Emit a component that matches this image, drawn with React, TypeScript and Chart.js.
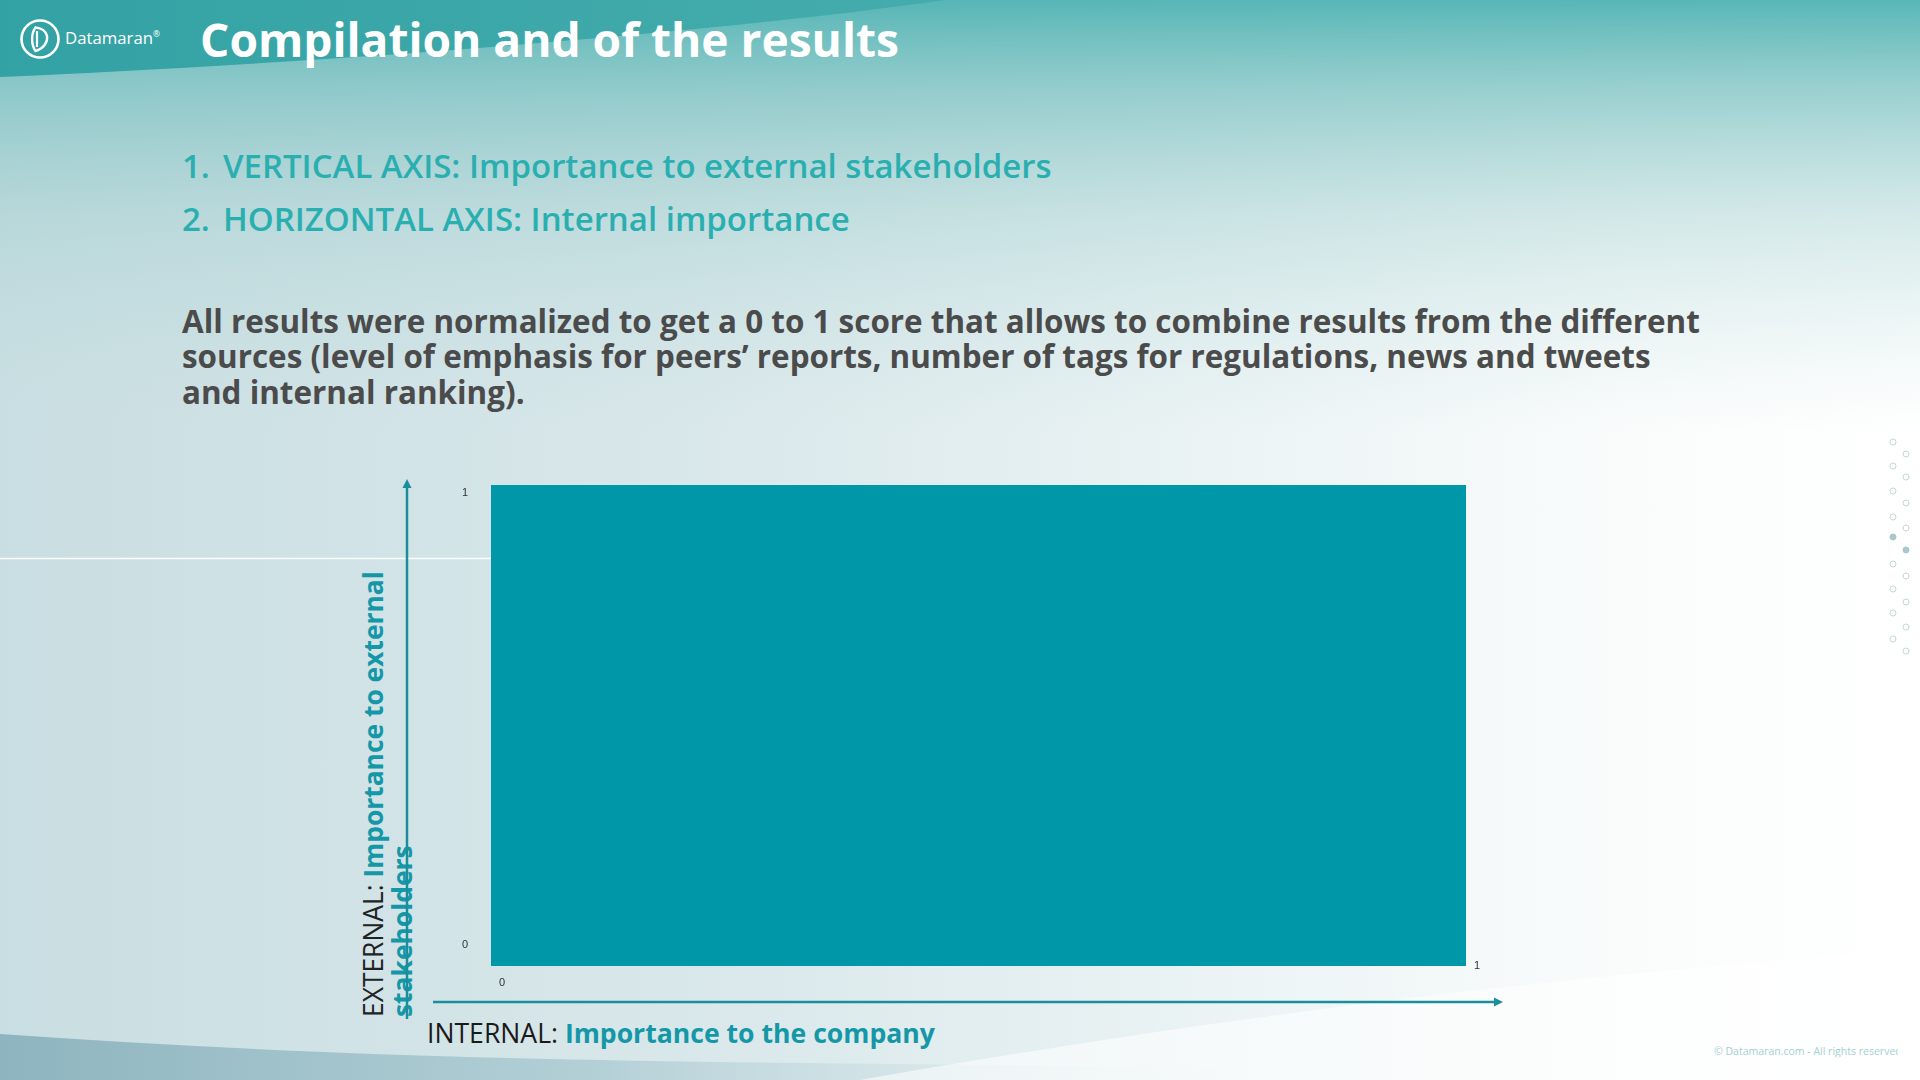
import React, { useEffect, useMemo, useRef } from "react";
import { Chart, registerables } from "chart.js";

Chart.register(...registerables);

// ---------- data ----------
const xRange = [0, 1];
const yRange = [0, 1];
const xTicks = [0, 1];
const yTicks = [0, 1];
const regionX = [0, 1];
const regionTop = [1, 1];

const titleText = "Compilation and of the results";
const listItems = [
  "VERTICAL AXIS: Importance to external stakeholders",
  "HORIZONTAL AXIS: Internal importance",
];
const paragraphLines = [
  "All results were normalized to get a 0 to 1 score that allows to combine results from the different",
  "sources (level of emphasis for peers\u2019 reports, number of tags for regulations, news and tweets",
  "and internal ranking).",
];
const yTitle = ["EXTERNAL: ", "Importance to external", "stakeholders"];
const xTitle = ["INTERNAL: ", "Importance to the company"];

// ---------- styles ----------
const FONT = "'Open Sans', 'Noto Sans', sans-serif";
const RECT = "#0097a9";
const ARROW = "#1a8e9c";
const TEAL_LIST = "#2aafb0";
const TEAL_AXIS = "#1497a6";

let mctx: CanvasRenderingContext2D | null = null;
function textW(segs: [string, number][], size: number) {
  if (!mctx) mctx = document.createElement("canvas").getContext("2d");
  let w = 0;
  for (const [t, wt] of segs) {
    mctx!.font = `${wt} ${size}px ${FONT}`;
    w += mctx!.measureText(t).width;
  }
  return w;
}
function fit(segs: [string, number][], target: number) {
  return (100 * target) / textW(segs, 100);
}

const decor = {
  id: "decor",
  afterDraw(chart: any) {
    const { ctx, chartArea: a, scales } = chart;
    const x = scales.x;
    const y = scales.y;
    ctx.save();
    // tick labels
    ctx.font = "11px 'Liberation Sans', Arial, sans-serif";
    ctx.fillStyle = "#333";
    ctx.textAlign = "center";
    ctx.textBaseline = "middle";
    const yMax = yRange[1];
    yTicks.forEach((v) => {
      const py = y.getPixelForValue(v) + (v === yMax ? 8 : -21);
      ctx.fillText(String(v), a.left - 26, py);
    });
    const xMax = xRange[1];
    xTicks.forEach((v) => {
      const px = x.getPixelForValue(v) + 11;
      const py = a.bottom + (v === xMax ? 0 : 17);
      ctx.fillText(String(v), px, py);
    });
    // arrows
    ctx.strokeStyle = ARROW;
    ctx.fillStyle = ARROW;
    ctx.lineWidth = 2.5;
    const vx = a.left - 84;
    const vTop = a.top - 6;
    ctx.beginPath();
    ctx.moveTo(vx, a.bottom + 53);
    ctx.lineTo(vx, vTop + 7);
    ctx.stroke();
    ctx.beginPath();
    ctx.moveTo(vx, vTop);
    ctx.lineTo(vx - 4.5, vTop + 9);
    ctx.lineTo(vx + 4.5, vTop + 9);
    ctx.closePath();
    ctx.fill();
    const hy = a.bottom + 36;
    const hRight = a.right + 37;
    ctx.beginPath();
    ctx.moveTo(a.left - 58, hy);
    ctx.lineTo(hRight - 7, hy);
    ctx.stroke();
    ctx.beginPath();
    ctx.moveTo(hRight, hy);
    ctx.lineTo(hRight - 9, hy - 4.5);
    ctx.lineTo(hRight - 9, hy + 4.5);
    ctx.closePath();
    ctx.fill();
    ctx.restore();
  },
};

const dotsA = [442, 466, 491, 517, 537, 564, 589, 613, 639];
const dotsB = [454, 477, 503, 528, 550, 576, 602, 627, 651];

export default function App() {
  const canvasRef = useRef<HTMLCanvasElement>(null);

  useEffect(() => {
    const chart = new Chart(canvasRef.current!, {
      type: "scatter",
      data: {
        datasets: [
          {
            data: regionX.map((x, i) => ({ x, y: regionTop[i] })),
            showLine: true,
            fill: "origin",
            backgroundColor: RECT,
            borderColor: "rgba(0,0,0,0)",
            borderWidth: 0,
            pointRadius: 0,
            tension: 0,
          } as any,
        ],
      },
      options: {
        animation: false,
        responsive: true,
        maintainAspectRatio: false,
        layout: { padding: { left: 491, top: 485, right: 454, bottom: 114 } },
        scales: {
          x: { type: "linear", min: xRange[0], max: xRange[1], display: false },
          y: { type: "linear", min: yRange[0], max: yRange[1], display: false },
        },
        plugins: { legend: { display: false }, tooltip: { enabled: false } },
        events: [],
      },
      plugins: [decor],
    });
    return () => chart.destroy();
  }, []);

  const sizes = useMemo(() => {
    return {
      title: fit([[titleText, 700]], 699),
      list: fit([[listItems[0], 600]], 829),
      para: fit([[paragraphLines[0], 700]], 1519),
      yT: fit([[yTitle[0], 400], [yTitle[1], 700]], 446),
      xT: fit([[xTitle[0], 400], [xTitle[1], 700]], 508),
      logo: fit([["Datamaran", 500]], 88),
      copy: fit([["\u00a9 Datamaran.com - All rights reserved", 400]], 188),
    };
  }, []);

  const abs = (s: React.CSSProperties): React.CSSProperties => ({
    position: "absolute",
    whiteSpace: "nowrap",
    lineHeight: 1,
    fontFamily: FONT,
    ...s,
  });

  return (
    <div
      style={{
        position: "absolute",
        left: 0,
        top: 0,
        width: 1920,
        height: 1080,
        overflow: "hidden",
        background: "#fff",
      }}
    >
      <svg width={1920} height={1080} style={{ position: "absolute", left: 0, top: 0 }}>
        <defs>
          <linearGradient id="bgH" x1="0" y1="0" x2="1920" y2="0" gradientUnits="userSpaceOnUse">
            <stop offset="0" stopColor="#c9dee2" />
            <stop offset="0.35" stopColor="#d8e7ea" />
            <stop offset="0.65" stopColor="#ecf4f5" />
            <stop offset="0.85" stopColor="#fafcfc" />
            <stop offset="1" stopColor="#ffffff" />
          </linearGradient>
          <linearGradient id="bgV" x1="0" y1="0" x2="0" y2="1080" gradientUnits="userSpaceOnUse">
            <stop offset="0" stopColor="#4fb3b3" stopOpacity="0.95" />
            <stop offset="0.08" stopColor="#78c0c0" stopOpacity="0.75" />
            <stop offset="0.2" stopColor="#a2cfcf" stopOpacity="0.45" />
            <stop offset="0.4" stopColor="#c5dfe0" stopOpacity="0" />
          </linearGradient>
          <linearGradient id="band" x1="0" y1="0" x2="945" y2="0" gradientUnits="userSpaceOnUse">
            <stop offset="0" stopColor="#33a2a4" />
            <stop offset="1" stopColor="#45acad" />
          </linearGradient>
          <linearGradient id="bottom" x1="0" y1="0" x2="1300" y2="0" gradientUnits="userSpaceOnUse">
            <stop offset="0" stopColor="#8db4bf" />
            <stop offset="0.45" stopColor="#a9c9d1" stopOpacity="0.8" />
            <stop offset="1" stopColor="#e8f1f3" stopOpacity="0" />
          </linearGradient>
        </defs>
        <rect x={0} y={0} width={1920} height={1080} fill="url(#bgH)" />
        <rect x={0} y={0} width={1920} height={1080} fill="url(#bgV)" />
        <path d="M0,0 L945,0 C700,35 300,64 0,77 Z" fill="url(#band)" />
        <path d="M0,1034 C250,1052 500,1060 800,1063 L1300,1068 L1300,1080 L0,1080 Z" fill="url(#bottom)" />
        <path d="M860,1080 C1200,1020 1550,975 1920,950 L1920,1080 Z" fill="#ffffff" opacity={0.55} />
        <line x1={0} y1={558.5} x2={491} y2={558.5} stroke="#ffffff" strokeOpacity={0.9} strokeWidth={1.5} />
        {/* logo */}
        <circle cx={40} cy={39} r={18.5} fill="none" stroke="#fff" strokeWidth={2.6} />
        <path
          d="M35.5,27.5 C31,33 31,45 35.5,51 C44,48.5 48,42 47,36 C46,31 41,28 35.5,27.5 Z"
          fill="none"
          stroke="#fff"
          strokeWidth={2.4}
          strokeLinejoin="round"
        />
        <line x1={37} y1={31} x2={37} y2={47} stroke="#fff" strokeWidth={2.2} />
        {dotsA.map((cy, i) => (
          <circle
            key={"a" + i}
            cx={1893}
            cy={cy}
            r={3}
            fill={i === 4 ? "#a9c8cc" : "none"}
            stroke={i === 4 ? "#a9c8cc" : "#c6d6da"}
            strokeWidth={1}
          />
        ))}
        {dotsB.map((cy, i) => (
          <circle
            key={"b" + i}
            cx={1906}
            cy={cy}
            r={3}
            fill={i === 4 ? "#a9c8cc" : "none"}
            stroke={i === 4 ? "#a9c8cc" : "#c6d6da"}
            strokeWidth={1}
          />
        ))}
      </svg>

      {/* logo text */}
      <div style={abs({ left: 65, top: 39, transform: "translateY(-55%)", color: "#fff", fontWeight: 500, fontSize: sizes.logo })}>
        Datamaran<sup style={{ fontSize: "0.5em", verticalAlign: "0.8em" }}>®</sup>
      </div>

      {/* title */}
      <div style={abs({ left: 200, top: 46, transform: "translateY(-62%)", color: "#fff", fontWeight: 700, fontSize: sizes.title })}>
        {titleText}
      </div>

      {/* list */}
      {listItems.map((t, i) => {
        const cy = [169, 222][i];
        return (
          <React.Fragment key={i}>
            <div style={abs({ left: 182, top: cy, transform: "translateY(-62%)", color: TEAL_LIST, fontWeight: 600, fontSize: sizes.list })}>
              {i + 1}.
            </div>
            <div style={abs({ left: 223, top: cy, transform: "translateY(-62%)", color: TEAL_LIST, fontWeight: 600, fontSize: sizes.list })}>
              {t}
            </div>
          </React.Fragment>
        );
      })}

      {/* paragraph */}
      {paragraphLines.map((t, i) => (
        <div
          key={i}
          style={abs({
            left: 182,
            top: [324, 359, 395][i],
            transform: "translateY(-62%)",
            color: "#4b4b4b",
            fontWeight: 700,
            fontSize: sizes.para,
          })}
        >
          {t}
        </div>
      ))}

      {/* vertical axis title */}
      <div
        style={{
          position: "absolute",
          left: 359,
          top: 1017,
          transformOrigin: "0 0",
          transform: "rotate(-90deg)",
          fontFamily: FONT,
          fontSize: sizes.yT,
          lineHeight: "28.5px",
          whiteSpace: "nowrap",
        }}
      >
        <div>
          <span style={{ color: "#222", fontWeight: 400 }}>{yTitle[0]}</span>
          <span style={{ color: TEAL_AXIS, fontWeight: 700 }}>{yTitle[1]}</span>
        </div>
        <div>
          <span style={{ color: TEAL_AXIS, fontWeight: 700 }}>{yTitle[2]}</span>
        </div>
      </div>

      {/* horizontal axis title */}
      <div style={abs({ left: 427, top: 1035, transform: "translateY(-58%)", fontSize: sizes.xT })}>
        <span style={{ color: "#1a1a1a", fontWeight: 400 }}>{xTitle[0]}</span>
        <span style={{ color: TEAL_AXIS, fontWeight: 700 }}>{xTitle[1]}</span>
      </div>

      {/* copyright */}
      <div style={{ position: "absolute", left: 1714, top: 1052, transform: "translateY(-55%)", width: 184, overflow: "hidden" }}>
        <div style={abs({ position: "relative", color: "#a3d0d2", fontWeight: 400, fontSize: sizes.copy })}>
          © Datamaran.com - All rights reserved
        </div>
      </div>

      <div style={{ position: "absolute", left: 0, top: 0, width: 1920, height: 1080, pointerEvents: "none" }}>
        <canvas ref={canvasRef} />
      </div>
    </div>
  );
}
